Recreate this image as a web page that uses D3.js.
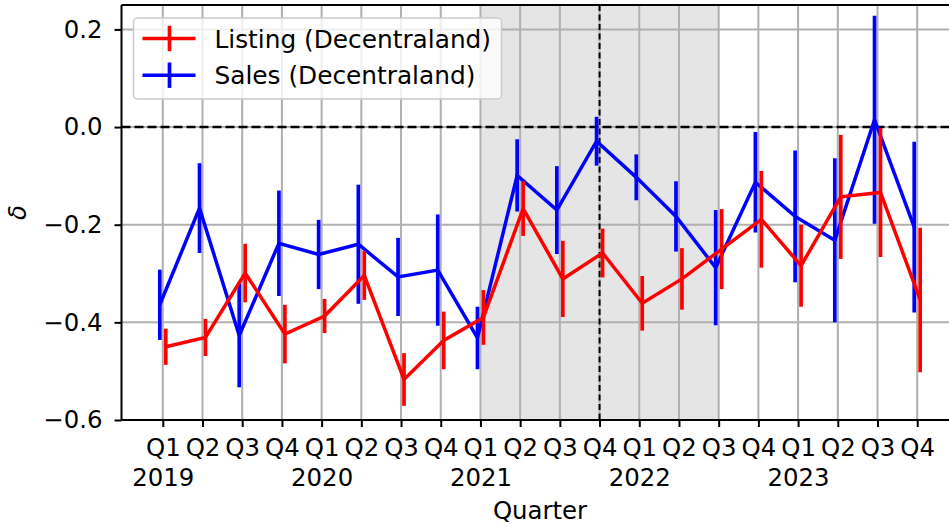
<!DOCTYPE html>
<html>
<head>
<meta charset="utf-8">
<script src="https://cdn.jsdelivr.net/npm/d3@7"></script>
<style>
  body { margin: 0; background: #fff; }
  svg { display: block; font-family: "DejaVu Sans", sans-serif; }
</style>
</head>
<body>
<svg id="chart" width="949" height="527"></svg>
<script>
// quarter labels, years shown under each Q1
var quarterLabels = ["Q1", "Q2", "Q3", "Q4", "Q1", "Q2", "Q3", "Q4", "Q1", "Q2",
    "Q3", "Q4", "Q1", "Q2", "Q3", "Q4", "Q1", "Q2", "Q3", "Q4"]
var yearLabels = ["2019", "", "", "", "2020", "", "", "", "2021", "",
    "", "", "2022", "", "", "", "2023", "", "", ""]

// delta per quarter, with symmetric error
var listingMean = [-0.450, -0.431, -0.299, -0.424, -0.387, -0.304, -0.517, -0.437, -0.390, -0.167,
    -0.311, -0.258, -0.361, -0.311, -0.250, -0.189, -0.284, -0.143, -0.134, -0.354]
var listingErr = [0.037, 0.038, 0.060, 0.060, 0.035, 0.050, 0.054, 0.059, 0.056, 0.056,
    0.078, 0.050, 0.056, 0.063, 0.082, 0.099, 0.084, 0.127, 0.132, 0.148]
var salesMean = [-0.364, -0.166, -0.427, -0.238, -0.261, -0.240, -0.307, -0.293, -0.432, -0.099,
    -0.170, -0.029, -0.103, -0.183, -0.288, -0.113, -0.183, -0.232, 0.015, -0.205]
var salesErr = [0.072, 0.092, 0.106, 0.108, 0.071, 0.122, 0.080, 0.114, 0.064, 0.074,
    0.090, 0.050, 0.047, 0.072, 0.118, 0.103, 0.135, 0.168, 0.213, 0.175]

var yTicks = [-0.6, -0.4, -0.2, 0.0, 0.2]
var shadedQuarters = [8, 14]
var markedQuarter = 11

var svg = d3.select("#chart"),
    margin = { top: 5, left: 121.5 },
    width = 837,
    height = 415,
    g = svg.append("g").attr("transform", "translate(" + margin.left + "," + margin.top + ")")

var x = d3.scaleLinear().domain([-1.04, 20.04]).range([0, width])
var y = d3.scaleLinear().domain([-0.6, 0.25]).range([height, 0])
var idx = d3.range(quarterLabels.length)

// shaded period
g.append("rect")
    .attr("x", x(shadedQuarters[0]))
    .attr("y", 0)
    .attr("width", x(shadedQuarters[1]) - x(shadedQuarters[0]))
    .attr("height", height)
    .attr("fill", "#e5e5e5")

// grid
g.selectAll(".vgrid")
    .data(idx)
    .enter().append("line")
    .attr("x1", d => x(d)).attr("x2", d => x(d))
    .attr("y1", 0).attr("y2", height)
    .attr("stroke", "#b0b0b0").attr("stroke-width", 2)
g.selectAll(".hgrid")
    .data(yTicks)
    .enter().append("line")
    .attr("x1", 0).attr("x2", width)
    .attr("y1", d => y(d)).attr("y2", d => y(d))
    .attr("stroke", "#b0b0b0").attr("stroke-width", 2)

// reference lines
g.append("line")
    .attr("x1", 0).attr("x2", width)
    .attr("y1", y(0)).attr("y2", y(0))
    .attr("stroke", "#000").attr("stroke-width", 2.5)
    .attr("stroke-dasharray", "9,4")
g.append("line")
    .attr("x1", x(markedQuarter)).attr("x2", x(markedQuarter))
    .attr("y1", 0).attr("y2", height)
    .attr("stroke", "#000").attr("stroke-width", 2)
    .attr("stroke-dasharray", "6,3.5")

function drawSeries(mean, err, color, offset) {
    var line = d3.line()
        .x(d => x(d + offset))
        .y(d => y(mean[d]))
    g.append("path")
        .datum(idx)
        .attr("d", line)
        .attr("fill", "none")
        .attr("stroke", color)
        .attr("stroke-width", 3.5)
        .attr("stroke-linejoin", "miter")
    g.append("g").selectAll("line")
        .data(idx)
        .enter().append("line")
        .attr("x1", d => x(d + offset)).attr("x2", d => x(d + offset))
        .attr("y1", d => y(mean[d] - err[d]))
        .attr("y2", d => y(mean[d] + err[d]))
        .attr("stroke", color)
        .attr("stroke-width", 3.7)
}

drawSeries(salesMean, salesErr, "#0000ff", -0.075)
drawSeries(listingMean, listingErr, "#ff0000", 0.075)

// axes
var xAxis = g.append("g")
    .attr("transform", "translate(0," + height + ")")
    .call(d3.axisBottom(x).tickValues(idx).tickSize(7).tickPadding(12)
        .tickFormat(d => quarterLabels[d]))
xAxis.select(".domain").remove()
xAxis.selectAll("text").each(function (d) {
    if (yearLabels[d]) {
        d3.select(this).append("tspan")
            .attr("x", 0)
            .attr("dy", "1.23em")
            .text(yearLabels[d])
    }
})

var yAxis = g.append("g")
    .call(d3.axisLeft(y).tickValues(yTicks).tickSize(7).tickPadding(12)
        .tickFormat(d3.format(".1f")))
yAxis.select(".domain").remove()

svg.selectAll(".tick line").attr("stroke", "#000").attr("stroke-width", 2)
svg.selectAll(".tick text")
    .attr("fill", "#000")
    .style("font-size", "24.4px")
    .style("font-family", "DejaVu Sans")

// spines
g.append("line").attr("x1", 0).attr("x2", 0).attr("y1", 0).attr("y2", height)
    .attr("stroke", "#000").attr("stroke-width", 2)
g.append("line").attr("x1", 0).attr("x2", width).attr("y1", height).attr("y2", height)
    .attr("stroke", "#000").attr("stroke-width", 2)
g.append("line").attr("x1", 0).attr("x2", width).attr("y1", 0).attr("y2", 0)
    .attr("stroke", "#000").attr("stroke-width", 2)
g.append("line").attr("x1", width).attr("x2", width).attr("y1", 0).attr("y2", height)
    .attr("stroke", "#000").attr("stroke-width", 2)

// axis titles
svg.append("text")
    .attr("x", margin.left + width / 2)
    .attr("y", 519)
    .attr("text-anchor", "middle")
    .style("font-size", "24.4px")
    .text("Quarter")
svg.append("text")
    .attr("transform", "translate(26,212.5) rotate(-90)")
    .attr("text-anchor", "middle")
    .style("font-size", "24.4px")
    .style("font-style", "italic")
    .text("δ")

// legend
var legend = svg.append("g").attr("transform", "translate(133.5,18)")
legend.append("rect")
    .attr("width", 368).attr("height", 81)
    .attr("rx", 4)
    .attr("fill", "#fff").attr("fill-opacity", 0.8)
    .attr("stroke", "#cccccc").attr("stroke-width", 1.5)
var entries = [
    { name: "Listing (Decentraland)", color: "#ff0000" },
    { name: "Sales (Decentraland)", color: "#0000ff" }
]
entries.forEach(function (e, i) {
    var cy = 20.5 + i * 36.7
    legend.append("line")
        .attr("x1", 9).attr("x2", 62).attr("y1", cy).attr("y2", cy)
        .attr("stroke", e.color).attr("stroke-width", 3.5)
    legend.append("line")
        .attr("x1", 36).attr("x2", 36).attr("y1", cy - 12.7).attr("y2", cy + 12.7)
        .attr("stroke", e.color).attr("stroke-width", 3.7)
    legend.append("text")
        .attr("x", 81).attr("y", cy + 9)
        .style("font-size", "24.8px")
        .text(e.name)
})
</script>
</body>
</html>
